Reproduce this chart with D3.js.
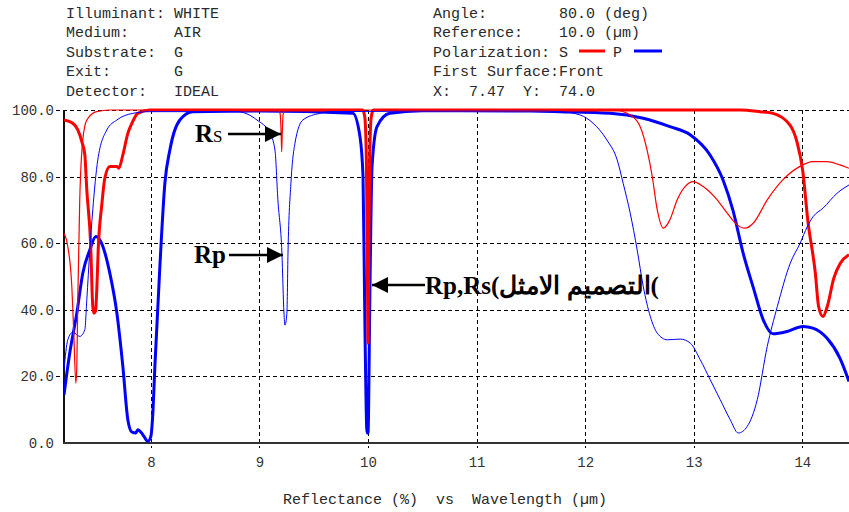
<!DOCTYPE html>
<html>
<head>
<meta charset="utf-8">
<script src="https://cdn.jsdelivr.net/npm/d3@7/dist/d3.min.js"></script>
<style>
  html, body { margin: 0; padding: 0; background: #ffffff; }
  svg { display: block; }
</style>
</head>
<body>
<svg id="chart" width="849" height="512"></svg>
<script>
// ---------------- DATA ----------------
const xTicks = [8, 9, 10, 11, 12, 13, 14];
const yTicks = [0, 20, 40, 60, 80, 100];

// Thick red: S polarization (optimal design)
const sOptWl = [7.2, 7.281, 7.327, 7.364, 7.392, 7.41, 7.445, 7.465, 7.475, 7.49, 7.502, 7.515, 7.548, 7.576, 7.622, 7.687, 7.705, 7.742, 7.788, 7.825, 7.88, 7.99,
  9.95, 9.97, 9.985, 9.995, 10.0, 10.005, 10.015, 10.03, 10.05,
  12.5, 13.43, 13.61, 13.73, 13.885, 13.95, 14.005, 14.05, 14.12, 14.15, 14.19, 14.23, 14.29, 14.35, 14.43];
const sOptR = [97, 96, 94, 90.5, 86.5, 76, 60, 41, 39, 39.5, 46, 58, 71.5, 79.5, 83, 83, 82.5, 86.5, 93, 96, 99, 100,
  100, 98, 85, 50, 30, 50, 85, 98, 100,
  100, 100, 99.5, 99, 95.5, 90.5, 81.5, 67, 51, 41, 38, 41, 49.5, 54, 56.5];

// Thick blue: P polarization (optimal design)
const pOptWl = [7.2, 7.253, 7.318, 7.373, 7.438, 7.493, 7.52, 7.558, 7.622, 7.687, 7.742, 7.788, 7.825, 7.86, 7.88, 7.926, 7.972, 8.0, 8.02, 8.037, 8.083, 8.129, 8.175, 8.267, 8.387,
  9.0, 9.86, 9.926, 9.954, 9.972, 9.991, 10.0, 10.018, 10.037, 10.083, 10.2, 10.5,
  11.5, 11.77, 12.23, 12.535, 12.78, 12.97, 13.15, 13.27, 13.36, 13.455, 13.55, 13.64, 13.73, 13.86, 14.005, 14.097, 14.226, 14.346, 14.43];
const pOptR = [14.5, 27, 39, 51, 58, 62, 61.5, 59, 51, 39, 23, 7, 3.3, 3, 4, 2.5, 0.5, 2, 10, 23, 53, 78, 88, 97, 99.5,
  99.7, 99, 92, 80, 34, 3, 3, 47, 83, 95, 99, 99.8,
  99.7, 99.5, 99, 97.5, 95, 92.5, 86.5, 79, 70, 57, 46.5, 37, 32.8, 33.5, 35, 34.5, 31.5, 25.5, 18.5];

// Thin red: S polarization (other design)
const sAltWl = [7.2, 7.235, 7.272, 7.29, 7.309, 7.318, 7.327, 7.345, 7.373, 7.41, 7.5, 7.62,
  9.17, 9.19, 9.2, 9.205, 9.21, 9.22, 9.24,
  12.26, 12.415, 12.507, 12.57, 12.618, 12.664, 12.72, 12.78, 12.847, 12.92, 12.995, 13.087, 13.216, 13.308, 13.4, 13.47, 13.548, 13.677, 13.82, 13.975, 14.097, 14.226, 14.346, 14.43];
const sAltR = [63, 59, 47, 33, 18, 23, 43, 73, 91, 97, 99.5, 100,
  100, 99, 93, 87.5, 93, 99, 100,
  100, 98.5, 95, 88, 80, 70, 64.5, 67, 73, 77, 78.5, 77, 73, 69, 65.5, 64.5, 66, 73, 79, 83, 84.5, 84.5, 83.5, 82.5];

// Thin blue: P polarization (other design)
const pAltWl = [7.2, 7.235, 7.281, 7.345, 7.392, 7.41, 7.438, 7.465, 7.511, 7.594, 7.687, 7.834, 7.99,
  8.793, 8.977, 9.097, 9.143, 9.17, 9.207, 9.226, 9.235, 9.253, 9.263, 9.29, 9.327, 9.4, 9.557, 9.65,
  11.5, 11.77, 11.954, 12.074, 12.2, 12.295, 12.35, 12.415, 12.479, 12.535, 12.6, 12.664, 12.756, 12.876, 12.968, 13.06, 13.152, 13.244, 13.336, 13.41, 13.493, 13.585, 13.677, 13.77, 13.889, 13.98, 14.046, 14.1, 14.19, 14.32, 14.43];
const pAltR = [22, 31, 33.3, 32, 34, 43, 58, 70, 85, 94, 97, 99, 99.5,
  99.5, 97, 93, 88, 73, 57, 39, 35.4, 39, 57, 78, 90, 97, 99, 99.5,
  99.8, 99.5, 98.5, 96, 91, 85, 78, 69, 58, 47, 38, 33, 31, 31.2, 30, 25, 19, 13, 7, 3, 5, 13, 29, 41, 54, 60, 65, 68, 70.5, 75, 77.5];

const headerLeft = [
  "Illuminant: WHITE",
  "Medium:     AIR",
  "Substrate:  G",
  "Exit:       G",
  "Detector:   IDEAL"
];
const headerRight = [
  "Angle:        80.0 (deg)",
  "Reference:    10.0 (\u00b5m)",
  "Polarization: S",
  "First Surface:Front",
  "X:  7.47  Y:  74.0"
];

// ---------------- DRAW ----------------
const svg = d3.select("#chart");
const W = 849, H = 512;
const x = d3.scaleLinear().domain([7.2, 14.43]).range([64, 849]);
const y = d3.scaleLinear().domain([0, 100]).range([443, 110]);

const mono = "'Liberation Mono', 'DejaVu Sans Mono', monospace";
const txtColor = "#2a2a2a";

// header
const hdr = svg.append("g").attr("font-family", mono).attr("font-size", 15).attr("fill", txtColor);
headerLeft.forEach((t, i) => {
  hdr.append("text").attr("x", 66).attr("y", 17.5 + i * 19.5)
    .style("white-space", "pre").text(t);
});
headerRight.forEach((t, i) => {
  hdr.append("text").attr("x", 433).attr("y", 17.5 + i * 19.5)
    .style("white-space", "pre").text(t);
});
hdr.append("text").attr("x", 613).attr("y", 17.5 + 2 * 19.5).text("P");
svg.append("line").attr("x1", 579).attr("x2", 605).attr("y1", 51).attr("y2", 51)
  .attr("stroke", "#ff0000").attr("stroke-width", 3);
svg.append("line").attr("x1", 634).attr("x2", 662).attr("y1", 51).attr("y2", 51)
  .attr("stroke", "#0000ff").attr("stroke-width", 3);

// grid
const grid = svg.append("g").attr("stroke", "#000").attr("stroke-width", 1).attr("stroke-dasharray", "4,3");
grid.selectAll("line.v").data(xTicks).join("line").attr("class", "v")
  .attr("x1", d => Math.round(x(d)) + 0.5).attr("x2", d => Math.round(x(d)) + 0.5)
  .attr("y1", y(100)).attr("y2", y(0) + 5);
grid.selectAll("line.h").data(yTicks.filter(d => d > 0)).join("line").attr("class", "h")
  .attr("x1", 56).attr("x2", W)
  .attr("y1", d => Math.round(y(d)) + 0.5).attr("y2", d => Math.round(y(d)) + 0.5);

// axes lines
svg.append("line").attr("x1", 64).attr("x2", 64).attr("y1", y(100)).attr("y2", y(0) + 1)
  .attr("stroke", "#111").attr("stroke-width", 2);
svg.append("line").attr("x1", 63).attr("x2", W).attr("y1", y(0)).attr("y2", y(0))
  .attr("stroke", "#333").attr("stroke-width", 2);

// axis tick labels via d3 axes
const xAxis = d3.axisBottom(x).tickValues(xTicks).tickFormat(d3.format("d")).tickSize(0).tickPadding(14);
const gx = svg.append("g").attr("transform", `translate(0,${y(0)})`).call(xAxis);
gx.select(".domain").remove();
gx.selectAll("text").attr("font-family", mono).attr("font-size", 14).attr("fill", "#333");

const yAxis = d3.axisLeft(y).tickValues(yTicks).tickFormat(d3.format(".1f")).tickSize(0).tickPadding(10);
const gy = svg.append("g").attr("transform", `translate(64,0)`).call(yAxis);
gy.select(".domain").remove();
gy.selectAll("text").attr("font-family", mono).attr("font-size", 14).attr("fill", "#333");

// curves
const defs = svg.append("defs");
defs.append("clipPath").attr("id", "plotClip")
  .append("rect").attr("x", 64).attr("y", 106).attr("width", W - 64).attr("height", 340);

const line = d3.line().x(d => x(d[0])).y(d => y(d[1])).curve(d3.curveMonotoneX);
const zip = (a, b) => a.map((v, i) => [v, b[i]]);
const curves = svg.append("g").attr("clip-path", "url(#plotClip)").attr("fill", "none")
  .attr("stroke-linejoin", "round");

curves.append("path").datum(zip(pOptWl, pOptR)).attr("d", line).attr("stroke", "#0000ff").attr("stroke-width", 3);
curves.append("path").datum(zip(sOptWl, sOptR)).attr("d", line).attr("stroke", "#ff0000").attr("stroke-width", 3);
curves.append("path").datum(zip(pAltWl, pAltR)).attr("d", line).attr("stroke", "#0000ff").attr("stroke-width", 1);
curves.append("path").datum(zip(sAltWl, sAltR)).attr("d", line).attr("stroke", "#ff0000").attr("stroke-width", 1.2);

// x-axis title
svg.append("text").attr("x", 445).attr("y", 504).attr("text-anchor", "middle")
  .attr("font-family", mono).attr("font-size", 15).attr("fill", txtColor)
  .style("white-space", "pre").text("Reflectance (%)  vs  Wavelength (\u00b5m)");

// annotations
const serif = "'Liberation Serif', 'Times New Roman', serif";
defs.append("marker").attr("id", "arrowHead").attr("viewBox", "0 0 16 16")
  .attr("refX", 16).attr("refY", 8).attr("markerWidth", 16).attr("markerHeight", 16)
  .attr("markerUnits", "userSpaceOnUse").attr("orient", "auto")
  .append("path").attr("d", "M0,0 L16,8 L0,16 Z").attr("fill", "#000");

function arrow(x1, x2, yy) {
  svg.append("line").attr("x1", x1).attr("x2", x2).attr("y1", yy).attr("y2", yy)
    .attr("stroke", "#000").attr("stroke-width", 2.5).attr("marker-end", "url(#arrowHead)");
}

const rs = svg.append("text").attr("x", 195).attr("y", 142).attr("font-family", serif)
  .attr("font-weight", "bold").attr("font-size", 25).attr("fill", "#000");
rs.append("tspan").text("R");
rs.append("tspan").attr("font-size", 17).attr("font-weight", "normal").text("S");
arrow(228, 281, 134);

svg.append("text").attr("x", 194).attr("y", 263).attr("font-family", serif)
  .attr("font-weight", "bold").attr("font-size", 25).attr("fill", "#000").text("Rp");
arrow(229, 283, 255);

svg.append("text").attr("x", 425).attr("y", 294).attr("font-family", serif)
  .attr("font-weight", "bold").attr("font-size", 25).attr("fill", "#000")
  .text("Rp,Rs(\u0627\u0644\u062a\u0635\u0645\u064a\u0645 \u0627\u0644\u0627\u0645\u062b\u0644(");
arrow(425, 372, 285);
</script>
</body>
</html>
